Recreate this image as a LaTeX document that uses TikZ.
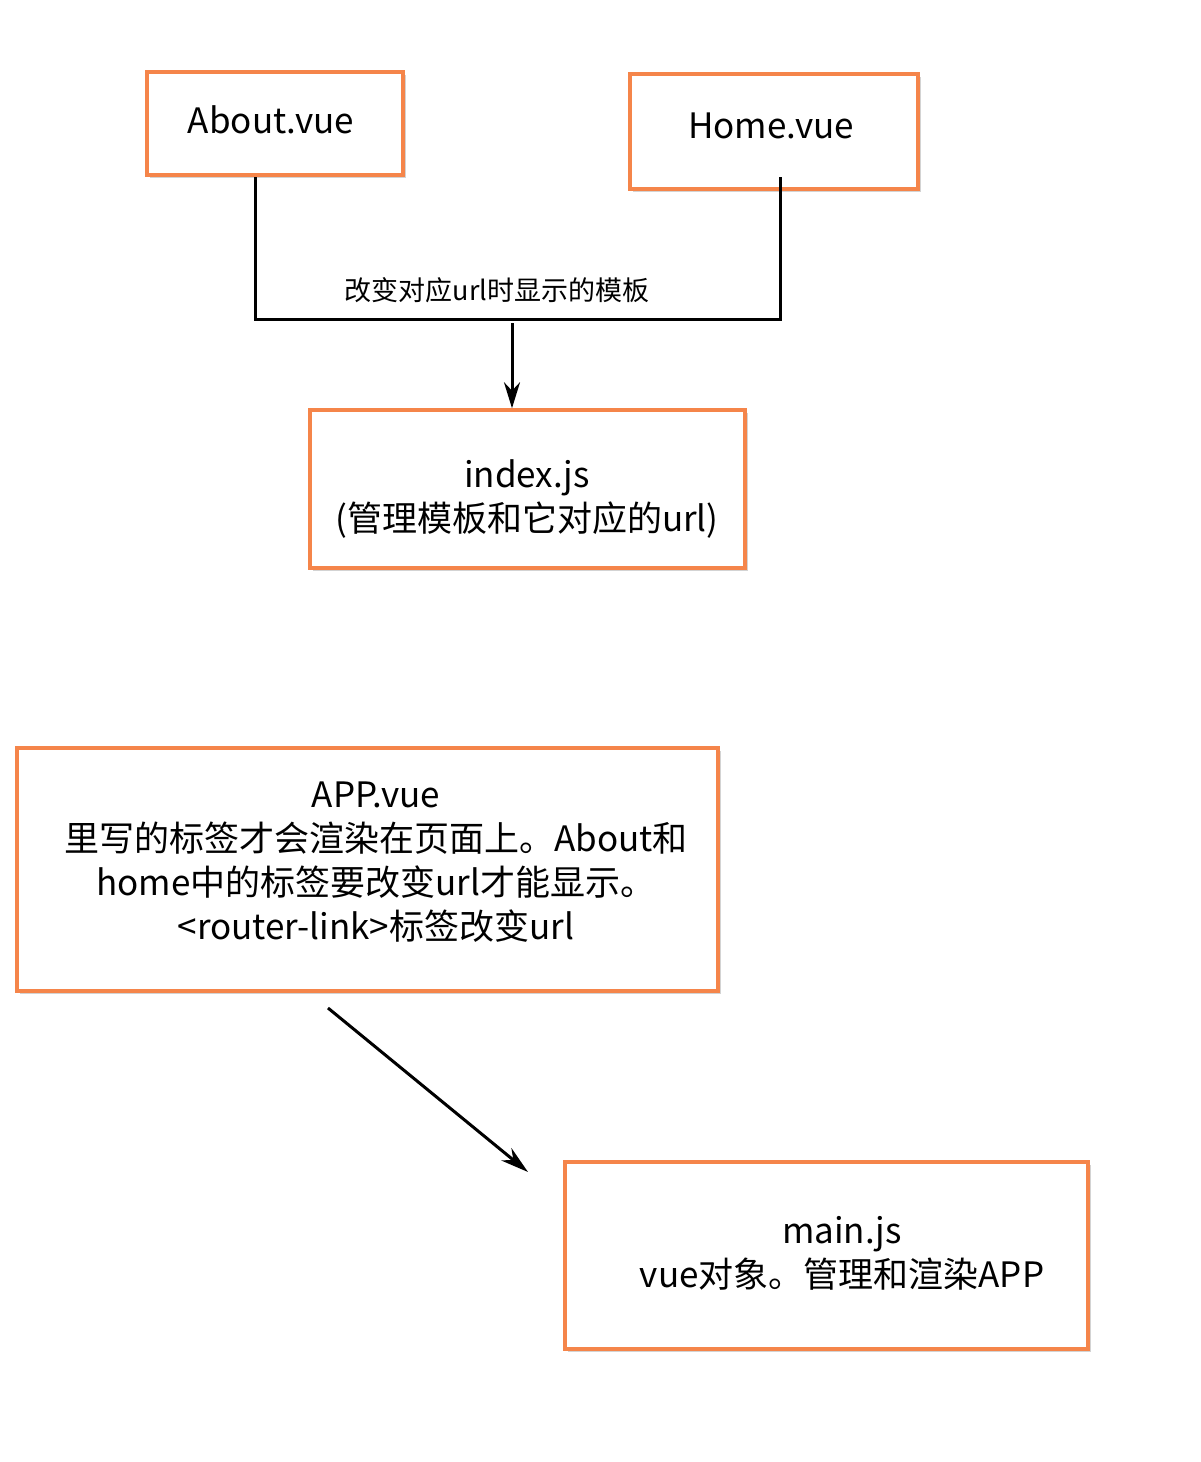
\documentclass[tikz,border=0pt]{standalone}
\usepackage{fontspec}
\setmainfont{Noto Sans CJK SC}
\usetikzlibrary{arrows.meta,shadows}
\definecolor{bord}{HTML}{F5854A}
\begin{document}
\begin{tikzpicture}[x=1pt,y=1pt,
  box/.style={draw=bord,line width=3.5pt,fill=white,drop shadow={opacity=0.35,shadow xshift=3pt,shadow yshift=-3pt},inner sep=0pt},
  lbl/.style={font=\fontsize{35}{44}\selectfont,align=center},
  conn/.style={line width=3pt,black}]
\useasboundingbox (0,0) rectangle (1200,-1462);
\node[box,minimum width=256,minimum height=103] (about) at (275,-123.5) {};
\node[lbl] at (271,-120) {About.vue};
\node[box,minimum width=288,minimum height=115] (home) at (774,-131.5) {};
\node[lbl] at (771,-126) {Home.vue};
\node[box,minimum width=435,minimum height=158] (index) at (527.5,-489) {};
\node[lbl] at (527,-499) {index.js\\(管理模板和它对应的url)};
\node[box,minimum width=701,minimum height=243] (app) at (367.5,-869.5) {};
\node[lbl] at (376,-862) {APP.vue\\里写的标签才会渲染在页面上。About和\\home中的标签要改变url才能显示。\\<router-link>标签改变url};
\node[box,minimum width=523,minimum height=187] (main) at (826.5,-1255.5) {};
\node[lbl] at (842,-1253) {main.js\\vue对象。管理和渲染APP};
\coordinate (a1) at (255,-177);
\coordinate (h1) at (780,-177);
\coordinate (c1) at (255,-319);
\coordinate (c2) at (780,-319);
\draw[conn] (a1) -- (c1) -- (c2) -- (h1);
\node[font=\fontsize{27}{32}\selectfont] (lab) at (497,-290) {改变对应url时显示的模板};
\coordinate (s1) at (512,-323);
\draw[line width=3pt,-{Stealth[length=26pt,width=16pt]}] (s1) -- (index.north -| s1);
\coordinate (d1) at (328,-1008);
\coordinate (d2) at (528,-1172);
\draw[line width=3pt,-{Stealth[length=28pt,width=16pt]}] (d1) -- (d2);
\end{tikzpicture}
\end{document}
